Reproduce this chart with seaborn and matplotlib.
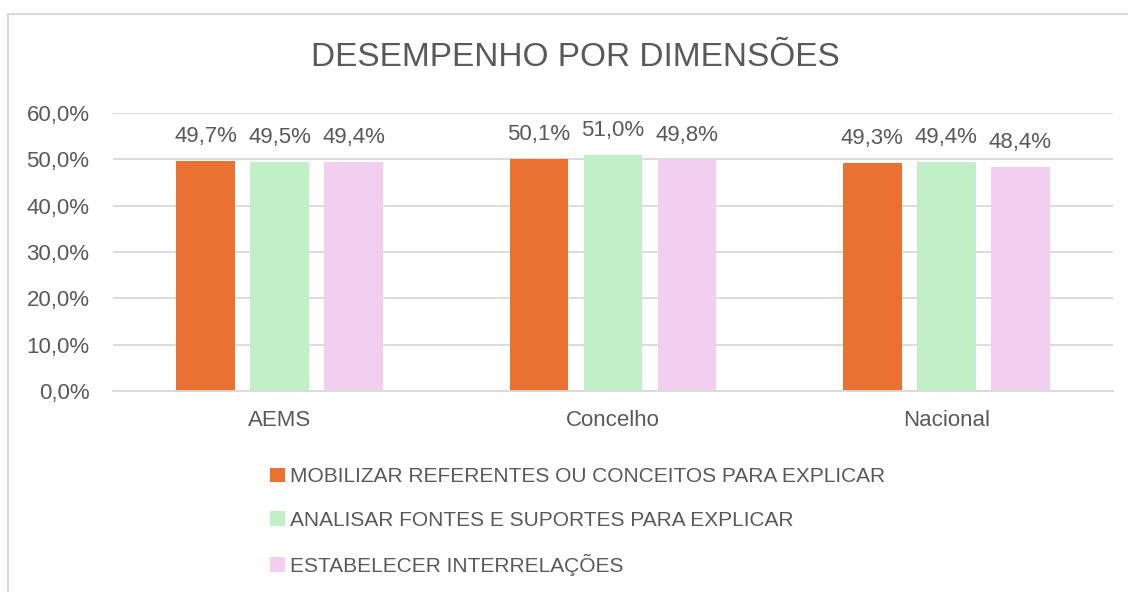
import pandas as pd
import matplotlib.pyplot as plt
import matplotlib.patches as mpatches
from matplotlib.ticker import FuncFormatter
import seaborn as sns

# data
regioes = ["AEMS", "Concelho", "Nacional"]
dimensoes = [
    "MOBILIZAR REFERENTES OU CONCEITOS PARA EXPLICAR",
    "ANALISAR FONTES E SUPORTES PARA EXPLICAR",
    "ESTABELECER INTERRELAÇÕES",
]
mobilizar = [49.7, 50.1, 49.3]
analisar = [49.5, 51.0, 49.4]
estabelecer = [49.4, 49.8, 48.4]
cores = ["#E97132", "#C1F0C8", "#F2CEEF"]

df = pd.DataFrame({
    "regiao": regioes * 3,
    "dimensao": [dimensoes[0]] * 3 + [dimensoes[1]] * 3 + [dimensoes[2]] * 3,
    "valor": mobilizar + analisar + estabelecer,
})

sns.set_theme(style="white")
plt.rcParams["font.family"] = ["Liberation Sans", "DejaVu Sans"]
texto = "#595959"
grelha = "#D9D9D9"

fig = plt.figure(figsize=(11.28, 5.92), dpi=100)
ax = fig.add_axes([113 / 1128, 1 - 391 / 592, 1000 / 1128, 278 / 592])

sns.barplot(data=df, x="regiao", y="valor", hue="dimensao", hue_order=dimensoes,
            order=regioes, palette=cores, width=0.666, gap=0.21, saturation=1,
            linewidth=0, legend=False, ax=ax)

ax.set_ylim(0, 60)
ax.set_yticks(range(0, 61, 10))
ax.yaxis.set_major_formatter(FuncFormatter(lambda v, p: f"{v:.1f}%".replace(".", ",")))
ax.grid(axis="y", color=grelha, linewidth=1.3)
ax.set_axisbelow(True)
for s in ["top", "right", "left"]:
    ax.spines[s].set_visible(False)
ax.spines["bottom"].set_color(grelha)
ax.spines["bottom"].set_linewidth(1.3)
ax.tick_params(axis="both", length=0, labelsize=16, labelcolor=texto)
ax.tick_params(axis="y", pad=17)
ax.tick_params(axis="x", pad=14)
ax.set_xlabel("")
ax.set_ylabel("")

for cont in ax.containers:
    ax.bar_label(cont, labels=[f"{b.get_height():.1f}%".replace(".", ",") for b in cont],
                 padding=10, fontsize=16, color=texto)

fig.text(575 / 1128, 1 - 58 / 592, "DESEMPENHO POR DIMENSÕES", ha="center", va="center",
         fontsize=24, color=texto)

handles = [mpatches.Patch(facecolor=c, edgecolor="none", label=d) for c, d in zip(cores, dimensoes)]
fig.legend(handles=handles, loc="upper left", bbox_to_anchor=(262 / 1128, 1 - 459 / 592),
           frameon=False, fontsize=15, labelcolor=texto, handlelength=0.7, handleheight=0.7,
           handletextpad=0.25, labelspacing=1.16, borderaxespad=0)

fig.patches.append(mpatches.Rectangle((8 / 1128, -0.1), 1.2, 1 - 14 / 592 + 0.1,
                                      transform=fig.transFigure, fill=False,
                                      edgecolor=grelha, linewidth=1.5))

fig.savefig("out.png", dpi=100, facecolor="white")
